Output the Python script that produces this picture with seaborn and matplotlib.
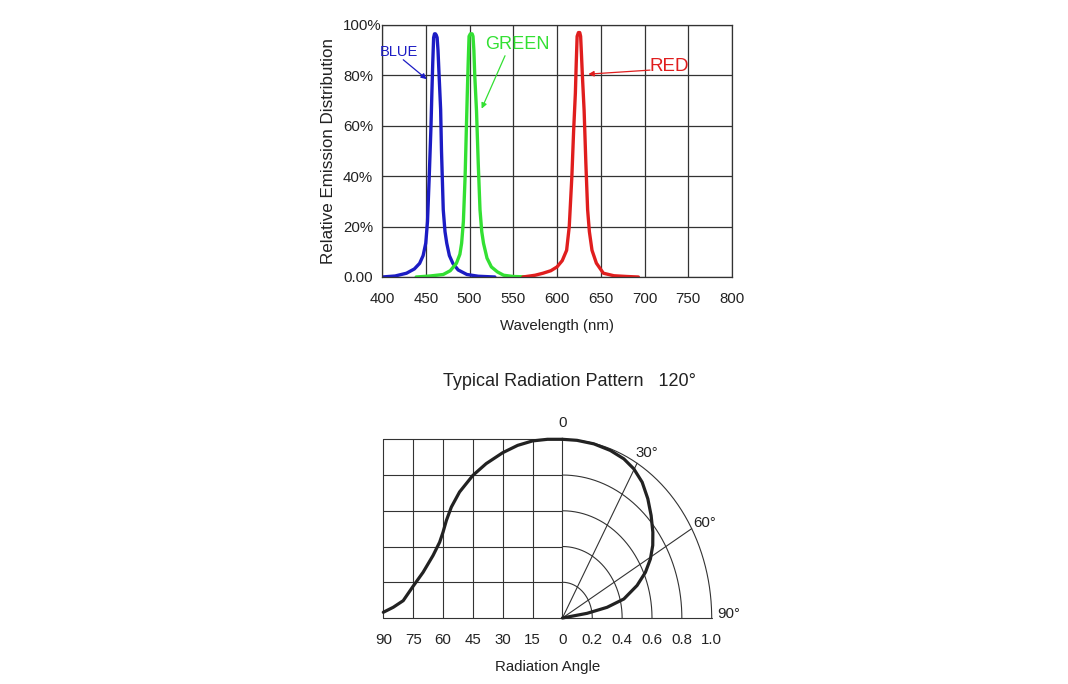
import numpy as np
import matplotlib
matplotlib.use("Agg")
import matplotlib.pyplot as plt
import seaborn as sns
from matplotlib import font_manager

# ---------------- data: emission spectra (wavelength nm, relative %) ----------------
blue_wl = [400, 415, 428, 437, 443, 447, 450, 452, 454, 456, 457, 458, 459, 460, 461, 462,
           463, 464, 465, 467, 468, 470, 472, 474, 477, 481, 487, 497, 510, 529]
blue_val = [0, 0.4, 1.5, 3.2, 5.4, 8.5, 13.4, 22, 40, 60, 73, 85, 95, 96.5, 96.5, 96,
            95, 90, 82, 66.5, 50, 26.7, 18, 13.4, 8.5, 5.4, 2.8, 1, 0.3, 0]

green_wl = [439, 455, 470, 478, 485, 489, 491, 493, 495, 496.5, 497.5, 498.5, 499.5, 501,
            503, 504, 505, 506, 508, 510, 512, 514, 516, 520, 525, 532, 539, 550, 569]
green_val = [0, 0.4, 1, 2.5, 5.4, 9, 13.4, 22, 40, 60, 73, 85, 95.5, 96.5,
             96.5, 95.5, 90, 80, 66, 45, 26.7, 18, 13.4, 7.5, 4, 2, 0.7, 0.2, 0]

red_wl = [561, 575, 584, 593, 600, 606, 611, 614, 617, 619, 621, 622, 623, 624.5, 626,
          627, 628, 629, 631, 633, 635, 637, 640, 645, 653, 665, 680, 693]
red_val = [0, 0.7, 1.5, 2.5, 4, 6.5, 10.6, 20, 40, 58, 73, 85, 95.5, 97, 97,
           95.5, 88, 80, 66, 45, 26.7, 18, 10.6, 5.5, 1.5, 0.5, 0.2, 0]

wl_ticks = [400, 450, 500, 550, 600, 650, 700, 750, 800]
pct_ticks = [0, 20, 40, 60, 80, 100]
pct_labels = ["0.00", "20%", "40%", "60%", "80%", "100%"]

# ---------------- data: radiation pattern ----------------
# left (cartesian) side: angle in degrees vs relative intensity
left_angle = [90, 85, 80, 75, 70, 65, 61.7, 60, 58.3, 55.8, 51.7, 45, 38.3, 30, 22.5,
              15, 7.5, 0]
left_int = [0.032, 0.060, 0.097, 0.178, 0.256, 0.350, 0.424, 0.480, 0.546, 0.621, 0.705,
            0.798, 0.864, 0.925, 0.966, 0.991, 1.0, 1.0]
# right (polar) side: angle in degrees vs relative intensity
polar_angle = [0, 5.6, 12.2, 18.9, 24.8, 29.8, 35.1, 40.6, 46, 51.6, 56.1, 60.7, 65.3,
               70, 75.5, 78.7, 81, 81.5]
polar_int = [1.0, 0.999, 0.997, 0.991, 0.981, 0.962, 0.929, 0.879, 0.826, 0.773, 0.729,
             0.676, 0.612, 0.532, 0.425, 0.305, 0.167, 0.0]

angle_tick_labels = ["90", "75", "60", "45", "30", "15", "0", "0.2", "0.4", "0.6", "0.8", "1.0"]
ring_levels = [0.2, 0.4, 0.6, 0.8, 1.0]
spoke_angles = [30, 60]

# ---------------- style ----------------
sns.set_theme(style="white")
names = {f.name for f in font_manager.fontManager.ttflist}
NARROW = "Liberation Sans Narrow" in names
FAM = "Liberation Sans Narrow" if NARROW else "Liberation Sans"
S = 1.0 if NARROW else 0.9
plt.rcParams["font.family"] = [FAM, "DejaVu Sans"]

BLUE, GREEN, RED = "#1c1cc4", "#33e033", "#e01e1e"
GRID = "#333333"
TXT = "#222222"

fig = plt.figure(figsize=(10.68, 6.84), dpi=100)
fig.patch.set_facecolor("white")

# ================= top: emission spectrum =================
ax = fig.add_axes([382 / 1068, (684 - 277) / 684, 350 / 1068, 252 / 684])
for wl, v, c in [(blue_wl, blue_val, BLUE), (green_wl, green_val, GREEN), (red_wl, red_val, RED)]:
    sns.lineplot(x=wl, y=v, color=c, lw=2.4, ax=ax, sort=False, estimator=None)
ax.set_xlim(400, 800)
ax.set_ylim(0, 100)
ax.set_xticks(wl_ticks)
ax.set_xticklabels([str(t) for t in wl_ticks])
ax.set_yticks(pct_ticks)
ax.set_yticklabels(pct_labels)
ax.grid(True, color=GRID, lw=0.9)
ax.set_axisbelow(True)
for sp in ax.spines.values():
    sp.set_color(GRID)
    sp.set_linewidth(0.9)
ax.tick_params(axis="x", length=0, pad=10.5, labelsize=12 * S, labelcolor=TXT)
ax.tick_params(axis="y", length=0, pad=28, labelsize=12 * S, labelcolor=TXT)
for lab in ax.get_yticklabels():
    lab.set_ha("left")
ax.set_xlabel("Wavelength (nm)", fontsize=12 * S, color=TXT, labelpad=9.5)
ax.set_ylabel("Relative Emission Distribution", fontsize=14 * S * 0.97, color=TXT, labelpad=5)

ax.text(419.7, 89.4, "BLUE", color=BLUE, fontsize=11.7 * S, ha="center", va="center")
ax.text(554.5, 92.4, "GREEN", color=GREEN, fontsize=14.5 * S, ha="center", va="center")
ax.text(728.6, 83.5, "RED", color=RED, fontsize=15 * S, ha="center", va="center")
for start, end, c in [((424.3, 86.2), (451.1, 78.5), BLUE),
                      ((540.6, 87.8), (513.9, 66.8), GREEN),
                      ((706.3, 82.1), (635.8, 80.5), RED)]:
    ax.annotate("", xy=end, xytext=start,
                arrowprops=dict(arrowstyle="-|>", color=c, lw=0.9, mutation_scale=8,
                                shrinkA=0, shrinkB=0))

# ================= bottom: radiation pattern =================
bx = fig.add_axes([383.3 / 1068, (684 - 618) / 684, 328.4 / 1068, 178.7 / 684])
bx.set_xlim(-1.2, 1.0)
bx.set_ylim(0, 1.0)
for sp in bx.spines.values():
    sp.set_visible(False)

# left grid
grid_x = np.round(np.arange(-1.2, 0.001, 0.2), 3)
for gx in grid_x:
    bx.plot([gx, gx], [0, 1.0], color=GRID, lw=0.8, clip_on=False)
for gy in ring_levels:
    bx.plot([-1.2, 0], [gy, gy], color=GRID, lw=0.8, clip_on=False)
bx.plot([-1.2, 1.0], [0, 0], color=GRID, lw=0.8, clip_on=False)
# polar rings and spokes
t = np.radians(np.linspace(0, 90, 200))
for r in ring_levels:
    bx.plot(r * np.sin(t), r * np.cos(t), color=GRID, lw=0.8, clip_on=False)
for a in spoke_angles:
    ar = np.radians(a)
    bx.plot([0, np.sin(ar)], [0, np.cos(ar)], color=GRID, lw=0.8, clip_on=False)

# curves
la = np.array(left_angle, dtype=float)
sns.lineplot(x=-la / 75.0, y=left_int, color="#222222", lw=2.3, ax=bx,
             sort=False, estimator=None)
pa = np.radians(np.array(polar_angle, dtype=float))
pr = np.array(polar_int, dtype=float)
sns.lineplot(x=pr * np.sin(pa), y=pr * np.cos(pa), color="#222222", lw=2.3, ax=bx,
             sort=False, estimator=None)
for ln in bx.lines:
    ln.set_clip_on(False)
    ln.set_solid_joinstyle("round")

bx.set_xticks(np.round(np.arange(-1.2, 1.001, 0.2), 3))
bx.set_xticklabels(angle_tick_labels)
bx.set_yticks([])
bx.tick_params(axis="x", length=0, pad=11, labelsize=12 * S, labelcolor=TXT)
bx.set_xlabel("Radiation Angle", fontsize=12 * S, color=TXT, labelpad=9)

bx.text(0, 1.09, "0", fontsize=12 * S, color=TXT, ha="center", va="center")
bx.text(0.491, 0.925, "30°", fontsize=12 * S, color=TXT, ha="left", va="center")
bx.text(0.875, 0.533, "60°", fontsize=12 * S, color=TXT, ha="left", va="center")
bx.text(1.037, 0.02, "90°", fontsize=12 * S, color=TXT, ha="left", va="center")

fig.text(569.5 / 1068, 1 - 381.7 / 684, "Typical Radiation Pattern   120°",
         fontsize=15 * S * 0.96, color=TXT, ha="center", va="center")

fig.savefig("out.png", dpi=100, facecolor="white")
